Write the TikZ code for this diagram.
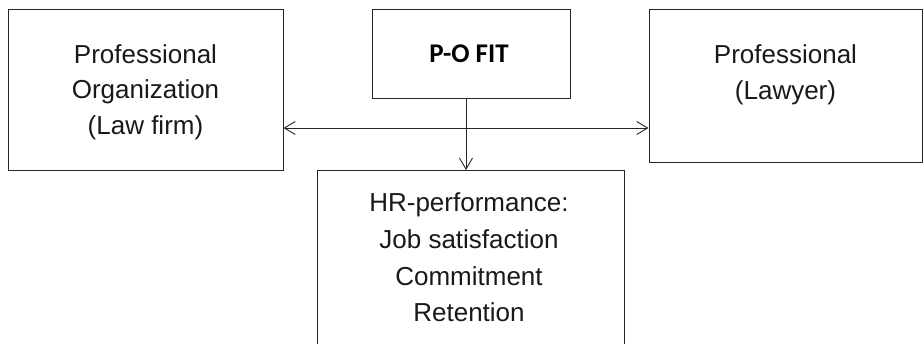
\documentclass[tikz,border=0pt]{standalone}
\usepackage{fontspec}
\setmainfont{Liberation Sans}
\newfontfamily\calib{Carlito}
\usetikzlibrary{arrows.meta}
\tikzset{
  box/.style={draw=black!85, line width=0.9pt, rectangle, inner sep=0pt},
  txt/.style={align=center, font=\fontsize{26}{35.5}\selectfont, text=black!90, inner sep=0pt},
  conn/.style={draw=black!85, line width=0.9pt, {Straight Barb[length=11pt,width=13pt,line width=0.9pt]}-{Straight Barb[length=11pt,width=13pt,line width=0.9pt]}},
  down/.style={draw=black!85, line width=0.9pt, -{Straight Barb[length=11pt,width=13pt,line width=0.9pt]}}
}
\begin{document}
\begin{tikzpicture}[x=1pt,y=-1pt]
\useasboundingbox (0,0) rectangle (924,344);
\clip (0,0) rectangle (924,344);
% boxes
\node[box, minimum width=275pt, minimum height=161pt] (lawfirm) at (145.5,89.5) {};
\node[box, minimum width=198pt, minimum height=89pt] (pofit) at (471,53.5) {};
\node[box, minimum width=273pt, minimum height=153pt] (lawyer) at (785.5,85.5) {};
\node[box, minimum width=307pt, minimum height=240pt, anchor=north] (hr) at (470.5,170) {};
% texts
\node[txt] (lawfirmtxt) at (145.5,92) {Professional\\Organization\\(Law firm)};
\node[font=\calib\bfseries\fontsize{27}{32}\selectfont, inner sep=0pt] (pofittxt) at (469,53.5) {P-O FIT};
\node[txt] (lawyertxt) at (785.5,75) {Professional\\(Lawyer)};
\node[txt, font=\fontsize{26}{36.7}\selectfont] (hrtxt) at (469,257.5) {HR-performance:\\Job satisfaction\\Commitment\\Retention};
% connectors
\draw[conn] ([yshift=-38.5pt]lawfirm.east) -- ([yshift=-38.5pt]lawfirm.east -| lawyer.west);
\draw[down] ([xshift=-5pt]pofit.south) -- ([xshift=-5pt]pofit.south |- hr.north);
\end{tikzpicture}
\end{document}
